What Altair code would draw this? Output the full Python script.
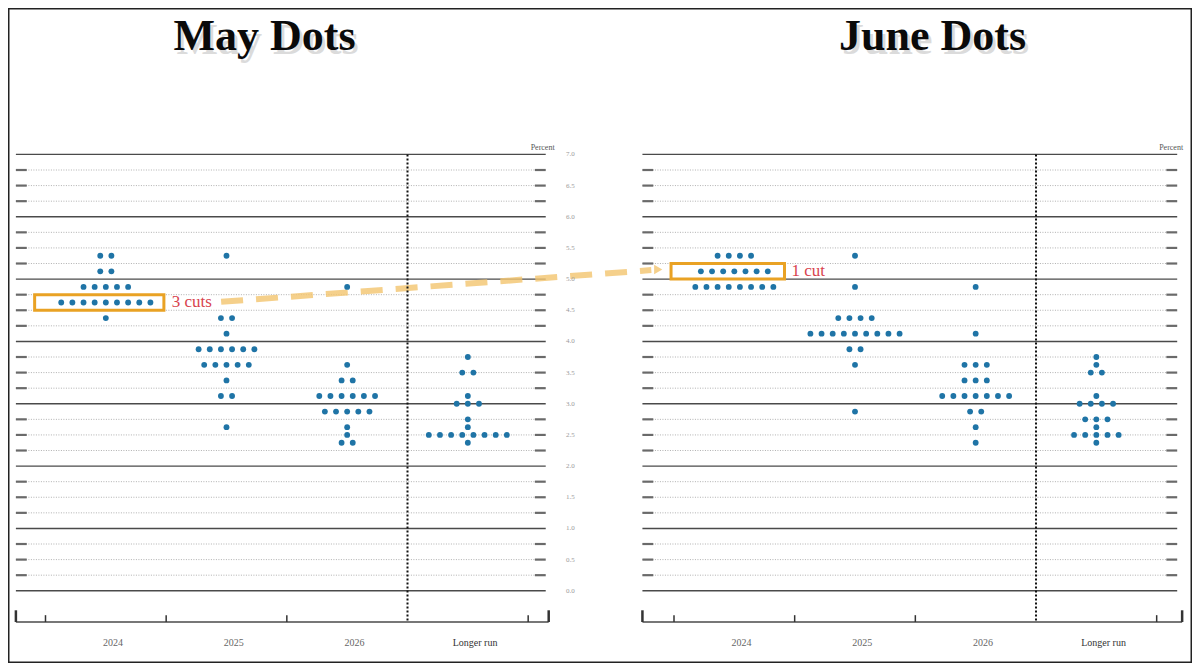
import altair as alt
import pandas as pd

# ---------------- data ----------------
COLUMNS = ["2024", "2025", "2026", "Longer run"]

# (midpoint of target range, number of participants)
MAY_2024 = [(5.375, 2), (5.125, 2), (4.875, 5), (4.625, 9), (4.375, 1)]
MAY_2025 = [(5.375, 1), (4.375, 2), (4.125, 1), (3.875, 6), (3.625, 5),
            (3.375, 1), (3.125, 2), (2.625, 1)]
MAY_2026 = [(4.875, 1), (3.625, 1), (3.375, 2), (3.125, 6), (2.875, 5),
            (2.625, 1), (2.5, 1), (2.375, 2)]
MAY_LR = [(3.75, 1), (3.5, 2), (3.125, 1), (3.0, 3), (2.75, 1),
          (2.625, 1), (2.5, 8), (2.375, 1)]

JUNE_2024 = [(5.375, 4), (5.125, 7), (4.875, 8)]
JUNE_2025 = [(5.375, 1), (4.875, 1), (4.375, 4), (4.125, 9), (3.875, 2),
             (3.625, 1), (2.875, 1)]
JUNE_2026 = [(4.875, 1), (4.125, 1), (3.625, 3), (3.375, 3), (3.125, 7),
             (2.875, 2), (2.625, 1), (2.375, 1)]
JUNE_LR = [(3.75, 1), (3.625, 1), (3.5, 2), (3.125, 1), (3.0, 4),
           (2.75, 3), (2.625, 1), (2.5, 5), (2.375, 1)]

TITLES = ["May Dots", "June Dots"]
Y_TICKS = [i * 0.25 for i in range(29)]          # 0.0 ... 7.0
Y_LABELS = ["%.1f" % (i * 0.5) for i in range(15)]
PERCENT_LABEL = "Percent"
ANNOT_TEXT = ["3 cuts", "1 cut"]
ANNOT_LEVEL = [4.625, 5.125]                      # highlighted 2024 rows

# ---------------- layout ----------------
W, H = 1184, 655
COL_PX = 122.3
X0_PX = 38
Y7_PX, Y0_PX = 150, 597


def ux(px):
    return (px - X0_PX) / COL_PX


def uy(py):
    return 7 * (Y0_PX - py) / (Y0_PX - Y7_PX)


XDOM = [ux(0), ux(1200)]
YDOM = [uy(671), uy(0)]

JUNE_OFF = ux(675)
PANELS = [
    dict(name="May", off=0.0, left=ux(8), right=ux(545), axis_right=ux(548),
         data=[MAY_2024, MAY_2025, MAY_2026, MAY_LR], title_x=ux(260),
         show_values=True),
    dict(name="June", off=JUNE_OFF, left=ux(643), right=ux(1185), axis_right=ux(1190),
         data=[JUNE_2024, JUNE_2025, JUNE_2026, JUNE_LR], title_x=ux(937),
         show_values=False),   # value labels of this panel lie off the right edge
]
DOT_DX = 11.3 / COL_PX
STUB = 11 / COL_PX
AXIS_Y = uy(629)
END_TICK = uy(617)
SMALL_TICK = uy(622)
LABEL_Y = uy(650)
TITLE_Y = uy(43)
PERCENT_Y = uy(143)

SERIF = "Liberation Serif"
DOT_COLOR = "#1f74a6"
BOX_COLOR = "#E9A224"
ANNOT_COLOR = "#D8434E"
ARROW_COLOR = "#F2C46E"


def X(f="x"):
    return alt.X(f, type="quantitative",
                 scale=alt.Scale(domain=XDOM, nice=False, zero=False), axis=None)


def Y(f="y"):
    return alt.Y(f, type="quantitative",
                 scale=alt.Scale(domain=YDOM, nice=False, zero=False), axis=None)


# ---------------- tables ----------------
solid, dotted, stubs, vlines, axis_lines, ticks = [], [], [], [], [], []
col_labels, y_labels, percent, dots, titles = [], [], [], [], []
for p in PANELS:
    off = p["off"]
    for v in Y_TICKS:
        row = dict(x=p["left"], x2=p["right"], y=v)
        if abs(v - round(v)) < 1e-9:
            solid.append(row)
        else:
            dotted.append(row)
            stubs.append(dict(x=p["left"], x2=p["left"] + STUB, y=v))
            stubs.append(dict(x=p["right"] - STUB, x2=p["right"], y=v))
    vlines.append(dict(x=off + 3, y=7.0, y2=AXIS_Y))
    axis_lines.append(dict(x=p["left"], x2=p["axis_right"], y=AXIS_Y))
    ticks.append(dict(x=p["left"], y=AXIS_Y, y2=END_TICK, w=2.5))
    ticks.append(dict(x=p["axis_right"], y=AXIS_Y, y2=END_TICK, w=2.5))
    for b in [0, 1, 2, 4]:
        ticks.append(dict(x=off + b, y=AXIS_Y, y2=SMALL_TICK, w=1.5))
    for i, c in enumerate(COLUMNS):
        col_labels.append(dict(x=off + i + 0.56, y=LABEL_Y, t=c,
                               dark=(c == "Longer run")))
    if p["show_values"]:
        for lab in Y_LABELS:
            y_labels.append(dict(x=off + 4.35, y=float(lab), t=lab))
    percent.append(dict(x=off + 4.12, y=PERCENT_Y, t=PERCENT_LABEL))
    for i, col in enumerate(p["data"]):
        center = off + i + 0.5
        for val, n in col:
            for k in range(n):
                dots.append(dict(x=center + (k - (n - 1) / 2) * DOT_DX, y=val,
                                 panel=p["name"], col=COLUMNS[i]))

for p, t in zip(PANELS, TITLES):
    titles.append(dict(x=p["title_x"], y=TITLE_Y, t=t))

boxes = [
    dict(x=ux(27), x2=ux(158), y=ANNOT_LEVEL[0] - 0.125, y2=ANNOT_LEVEL[0] + 0.125),
    dict(x=JUNE_OFF + (672 - 675) / COL_PX, x2=JUNE_OFF + (787 - 675) / COL_PX,
         y=ANNOT_LEVEL[1] - 0.125, y2=ANNOT_LEVEL[1] + 0.125),
]
annots = [
    dict(x=ux(166), y=ANNOT_LEVEL[0], t=ANNOT_TEXT[0]),
    dict(x=JUNE_OFF + (794 - 675) / COL_PX, y=ANNOT_LEVEL[1], t=ANNOT_TEXT[1]),
]
connector = [dict(x=ux(216), y=uy(301)), dict(x=ux(652), y=uy(268.5))]
arrow_head = [dict(x=ux(659), y=uy(268))]

D = lambda rows: alt.Data(values=rows)

layers = []
layers.append(alt.Chart(D(dotted)).mark_rule(color="#b0b0b0", strokeWidth=1,
                                              strokeDash=[1, 1.5]).encode(
    x=X(), x2=alt.X2("x2"), y=Y()))
layers.append(alt.Chart(D(stubs)).mark_rule(color="#6a6a6a", strokeWidth=2.2).encode(
    x=X(), x2=alt.X2("x2"), y=Y()))
layers.append(alt.Chart(D(solid)).mark_rule(color="#4a4a4a", strokeWidth=1.4).encode(
    x=X(), x2=alt.X2("x2"), y=Y()))
layers.append(alt.Chart(D(connector)).mark_line(color=ARROW_COLOR, strokeWidth=6,
                                                 strokeDash=[22, 13], opacity=0.8).encode(
    x=X(), y=Y()))
layers.append(alt.Chart(D(arrow_head)).mark_point(shape="triangle-right", filled=True,
                                                   size=90, color=ARROW_COLOR,
                                                   opacity=0.8).encode(x=X(), y=Y()))
layers.append(alt.Chart(D(vlines)).mark_rule(color="#111", strokeWidth=2,
                                              strokeDash=[2, 2]).encode(
    x=X(), y=Y(), y2=alt.Y2("y2")))
layers.append(alt.Chart(D(axis_lines)).mark_rule(color="#4a4a4a", strokeWidth=1.6).encode(
    x=X(), x2=alt.X2("x2"), y=Y()))
layers.append(alt.Chart(D(ticks)).mark_rule(color="#333").encode(
    x=X(), y=Y(), y2=alt.Y2("y2"),
    strokeWidth=alt.StrokeWidth("w:Q", scale=None, legend=None)))
layers.append(alt.Chart(D(col_labels)).mark_text(font=SERIF, fontSize=10,
                                                  align="center", baseline="middle").encode(
    x=X(), y=Y(), text="t:N",
    color=alt.condition("datum.dark", alt.value("#333"), alt.value("#666"))))
layers.append(alt.Chart(D(y_labels)).mark_text(font=SERIF, fontSize=7, color="#9a9a9a",
                                                align="center", baseline="middle").encode(
    x=X(), y=Y(), text="t:N"))
layers.append(alt.Chart(D(percent)).mark_text(font=SERIF, fontSize=8, color="#555",
                                               align="center", baseline="middle").encode(
    x=X(), y=Y(), text="t:N"))
layers.append(alt.Chart(D(boxes)).mark_rect(fillOpacity=0, stroke=BOX_COLOR,
                                             strokeWidth=3).encode(
    x=X(), x2=alt.X2("x2"), y=Y(), y2=alt.Y2("y2")))
layers.append(alt.Chart(D(dots)).mark_circle(size=34, color=DOT_COLOR, opacity=1).encode(
    x=X(), y=Y()))
layers.append(alt.Chart(D(annots)).mark_text(font=SERIF, fontSize=17, color=ANNOT_COLOR,
                                              align="left", baseline="middle").encode(
    x=X(), y=Y(), text="t:N"))
layers.append(alt.Chart(D(titles)).mark_text(font=SERIF, fontSize=44, fontWeight="bold",
                                              color="#9a9a9a", opacity=0.35, dx=3, dy=4,
                                              align="center", baseline="alphabetic").encode(
    x=X(), y=Y(), text="t:N"))
layers.append(alt.Chart(D(titles)).mark_text(font=SERIF, fontSize=44, fontWeight="bold",
                                              color="#0a0a0a", align="center",
                                              baseline="alphabetic").encode(
    x=X(), y=Y(), text="t:N"))

chart = alt.layer(*layers).properties(
    width=W, height=H, padding=0,
    autosize=alt.AutoSizeParams(type="fit", contains="padding"),
    background="white",
).configure_view(stroke="#222", strokeWidth=3)

chart.save("out.html", embed_options={"renderer": "svg", "actions": False})
